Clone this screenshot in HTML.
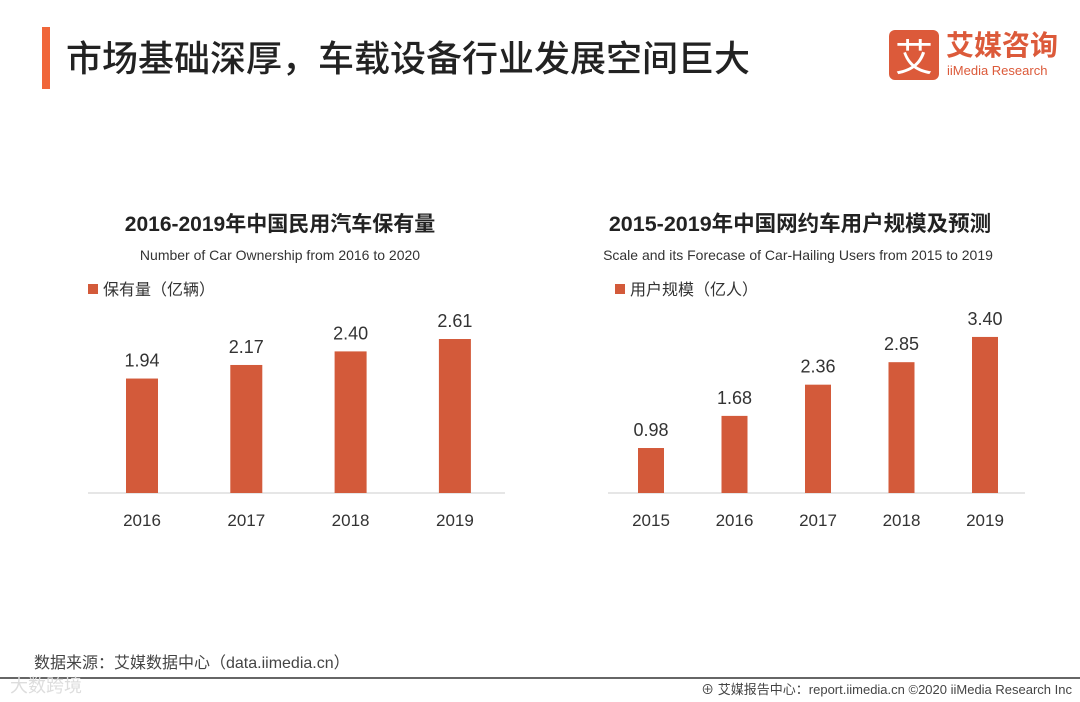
<!DOCTYPE html>
<html><head><meta charset="utf-8"><style>
body{margin:0;width:1080px;height:702px;background:#fff;position:relative;overflow:hidden;font-family:"Liberation Sans","Noto Sans CJK SC",sans-serif;}
.abs{position:absolute;}
</style></head><body>
<div class="abs" style="left:42px;top:27px;width:8px;height:62px;background:#f0663a"></div>
<div class="abs" style="left:66px;top:33px;font-size:36px;line-height:46px;color:#222;font-family:'Noto Sans CJK SC',sans-serif;font-weight:500">市场基础深厚，车载设备行业发展空间巨大</div>
<div class="abs" style="left:889px;top:30px;width:50px;height:50px;background:#dc5a3a;border-radius:6px;color:#fff;font-size:38px;line-height:50px;text-align:center;font-family:'Noto Sans CJK SC',sans-serif">艾</div>
<div class="abs" style="left:946px;top:27px;color:#dc5a3a;font-family:'Noto Sans CJK SC',sans-serif;font-size:28px;line-height:34px;font-weight:bold">艾媒咨询</div>
<div class="abs" style="left:947px;top:63px;color:#dc5a3a;font-size:13px">iiMedia Research</div>
<svg class="abs" style="left:0;top:0" width="1080" height="702" id="svg">
<g font-family="Liberation Sans, Noto Sans CJK SC, sans-serif" text-anchor="middle">
<text x="280" y="231" font-size="21" font-weight="bold" fill="#222">2016-2019年中国民用汽车保有量</text>
<text x="280" y="260" font-size="14" fill="#333">Number of Car Ownership from 2016 to 2020</text>
<text x="800" y="231" font-size="21.5" font-weight="bold" fill="#222">2015-2019年中国网约车用户规模及预测</text>
<text x="798" y="260" font-size="14" fill="#333">Scale and its Forecase of Car-Hailing Users from 2015 to 2019</text>
</g>
<rect x="88" y="284" width="10" height="10" fill="#d35a3a"/>
<text x="103" y="295" font-size="16" fill="#333" font-family="Noto Sans CJK SC, sans-serif">保有量（亿辆）</text>
<rect x="615" y="284" width="10" height="10" fill="#d35a3a"/>
<text x="630" y="295" font-size="16" fill="#333" font-family="Noto Sans CJK SC, sans-serif">用户规模（亿人）</text>
<g id="left"></g><g id="right"></g>
<text x="34" y="668" font-size="16" fill="#444" font-family="Liberation Sans, Noto Sans CJK SC, sans-serif">数据来源：艾媒数据中心（data.iimedia.cn）</text>
<line x1="0" y1="678" x2="1080" y2="678" stroke="#666" stroke-width="2"/>
<text x="10" y="692" font-size="18" fill="#ddd" font-family="Noto Sans CJK SC, sans-serif">大数跨境</text>
<text x="1072" y="694" text-anchor="end" font-size="13" fill="#444" font-family="Liberation Sans, Noto Sans CJK SC, sans-serif">⊕ 艾媒报告中心：report.iimedia.cn  ©2020  iiMedia Research  Inc</text>
</svg>
<script>
const leftCats=["2016","2017","2018","2019"];
const leftVals=[1.94,2.17,2.40,2.61];
const rightCats=["2015","2016","2017","2018","2019"];
const rightVals=[0.98,1.68,2.36,2.85,3.40];
const NS="http://www.w3.org/2000/svg";
function mk(t,a,p){const e=document.createElementNS(NS,t);for(const k in a)e.setAttribute(k,a[k]);p.appendChild(e);return e;}
function draw(g,cats,vals,x0,step,bw,scale,axL,axR,pre){
 const base=493;
 const ax=mk('line',{x1:axL,x2:axR,y1:base,y2:base,stroke:'#ccc','stroke-width':1},g);
 
 
 cats.forEach((c,i)=>{
  const cx=x0+i*step, h=vals[i]*scale;
  const r=mk('rect',{x:cx-bw/2,y:base-h,width:bw,height:h,fill:'#d35a3a'},g);
  
  
  const v=mk('text',{x:cx,y:base-h-12,'text-anchor':'middle','font-size':18,fill:'#333','font-family':'Liberation Sans, sans-serif'},g);
  v.textContent=vals[i].toFixed(2);
  
  
  const t=mk('text',{x:cx,y:526,'text-anchor':'middle','font-size':17,fill:'#333','font-family':'Liberation Sans, sans-serif'},g);
  t.textContent=c;
  
  
 });
}
draw(document.getElementById('left'),leftCats,leftVals,142,104.3,32,59,88,505,'left');
draw(document.getElementById('right'),rightCats,rightVals,651,83.5,26,45.9,608,1025,'right');
</script>
</body></html>
